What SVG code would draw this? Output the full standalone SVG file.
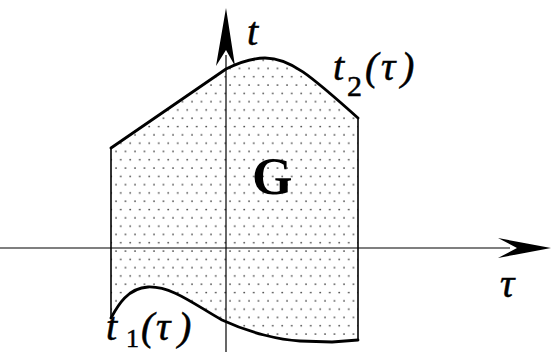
<svg xmlns="http://www.w3.org/2000/svg" width="551" height="352" viewBox="0 0 551 352">
<defs>
<pattern id="dots" width="9.5" height="16.6" patternUnits="userSpaceOnUse">
<circle cx="2" cy="2" r="0.9" fill="#444"/>
<circle cx="6.75" cy="10.3" r="0.9" fill="#444"/>
</pattern>
</defs>
<style>
.edge{fill:none;stroke:#000;stroke-width:1.6}
.curve{fill:none;stroke:#000;stroke-width:2.8;stroke-linejoin:round;stroke-linecap:round}
.axis{fill:none;stroke:#000;stroke-width:1.2}
.lbl{font-family:"Liberation Serif","Times New Roman",serif;font-style:italic;fill:#000;stroke:#000;stroke-width:0.5}
.sub{font-family:"Liberation Serif","Times New Roman",serif;font-style:normal;fill:#000;stroke:#000;stroke-width:0.5}
</style>
<g id="region">
<path d="M111,148 L226,69 C240,62 252,58 265,58 C290,58 310,75 358,118 L358,340 L332,342 L300,341 C280,340 250,333 222,320 C195,305 172,286 148,287 C128,288 118,305 111,318 Z" fill="url(#dots)"/>
<path class="curve" d="M111,148 L226,69 C240,62 252,58 265,58 C290,58 310,75 358,118"/>
<path class="curve" d="M111,318 C118,305 128,288 148,287 C172,286 195,305 222,320 C250,333 280,340 300,341 L332,342 L358,340"/>
<path class="edge" d="M111,148 L111,318 M358,118 L358,340"/>
<text x="252" y="194" font-family="'Liberation Serif','Times New Roman',serif" font-weight="bold" font-size="52">G</text>
</g>
<g id="connectors">
<path class="axis" d="M0,248 L510,248"/>
<path d="M551,248 L498,238 L517,248 L498,258 Z" fill="#000"/>
<path class="axis" d="M226,352 L226,55"/>
<path d="M226,8 L216,66 L226,50 L235,66 Z" fill="#000"/>
</g>
<g id="labels">
<text class="lbl" x="247" y="45" font-size="40">t</text>
<text class="lbl" x="333" y="80" font-size="40">t</text>
<text class="sub" x="347" y="96" font-size="30">2</text>
<text class="lbl" x="365" y="80" font-size="40">(</text>
<text class="lbl" x="381" y="80" font-size="40">τ</text>
<text class="lbl" x="401" y="80" font-size="40">)</text>
<text class="lbl" x="500" y="297" font-size="40">τ</text>
<text class="lbl" x="106" y="340" font-size="40">t</text>
<text class="sub" x="126" y="347" font-size="26">1</text>
<text class="lbl" x="141" y="340" font-size="40">(</text>
<text class="lbl" x="156" y="340" font-size="40">τ</text>
<text class="lbl" x="178" y="340" font-size="40">)</text>
</g>
</svg>
